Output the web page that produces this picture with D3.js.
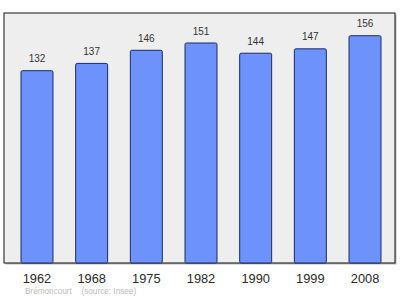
<!DOCTYPE html>
<html>
<head>
<meta charset="utf-8">
<script src="https://cdn.jsdelivr.net/npm/d3@7"></script>
<style>
 body { margin: 0; background: #fff; }
 svg { display: block; font-family: "Liberation Sans", Arial, sans-serif; }
</style>
</head>
<body>
<svg id="chart" width="400" height="299"></svg>
<script>
 // data
 const years = ['1962', '1968', '1975', '1982', '1990', '1999', '2008'];
 const population = [132, 137, 146, 151, 144, 147, 156];
 const commune = 'Brémoncourt';
 const source = '(source: Insee)';

 const frame = { left: 4, top: 13, right: 395, bottom: 263 };

 const svg = d3.select('#chart');

 const x = d3.scaleBand()
   .domain(years)
   .range([21, 381])
   .paddingInner(0.415)
   .paddingOuter(0);

 const y = d3.scaleLinear()
   .domain([0, d3.max(population) * 1.1])
   .range([frame.bottom, frame.top]);

 // shadow + frame
 svg.append('rect')
   .attr('x', frame.left + 1.5).attr('y', frame.top + 1.5)
   .attr('width', frame.right - frame.left).attr('height', frame.bottom - frame.top)
   .attr('fill', '#bbb');
 svg.append('rect')
   .attr('x', frame.left).attr('y', frame.top)
   .attr('width', frame.right - frame.left).attr('height', frame.bottom - frame.top)
   .attr('fill', '#eeeeee')
   .attr('stroke', '#111')
   .attr('stroke-width', 1);

 const data = years.map((d, i) => ({ year: d, value: population[i] }));

 svg.selectAll('.bar')
   .data(data)
   .enter()
   .append('rect')
   .attr('class', 'bar')
   .attr('x', d => x(d.year))
   .attr('y', d => y(d.value))
   .attr('width', x.bandwidth())
   .attr('height', d => y(0) - y(d.value))
   .attr('rx', 1.5)
   .attr('fill', '#6d92fc')
   .attr('stroke', '#1a2a66')
   .attr('stroke-width', 1);

 svg.selectAll('.value')
   .data(data)
   .enter()
   .append('text')
   .attr('class', 'value')
   .attr('x', d => x(d.year) + x.bandwidth() / 2)
   .attr('y', d => y(d.value) - 8.5)
   .attr('text-anchor', 'middle')
   .attr('font-size', 10)
   .attr('fill', '#333')
   .text(d => d.value);

 // year labels via axis
 const axis = svg.append('g')
   .attr('transform', `translate(0,${frame.bottom})`)
   .call(d3.axisBottom(x).tickSize(0).tickPadding(11));
 axis.select('.domain').remove();
 axis.selectAll('text')
   .attr('font-size', 12.8)
   .attr('font-family', '"Liberation Sans", Arial, sans-serif')
   .attr('fill', '#2a2a2a');

 svg.append('text')
   .attr('x', 25).attr('y', 294)
   .attr('font-size', 8.2)
   .attr('fill', '#bdbdbd')
   .text(commune);
 svg.append('text')
   .attr('x', 81.5).attr('y', 294)
   .attr('font-size', 8.2)
   .attr('fill', '#bdbdbd')
   .text(source);
</script>
</body>
</html>
